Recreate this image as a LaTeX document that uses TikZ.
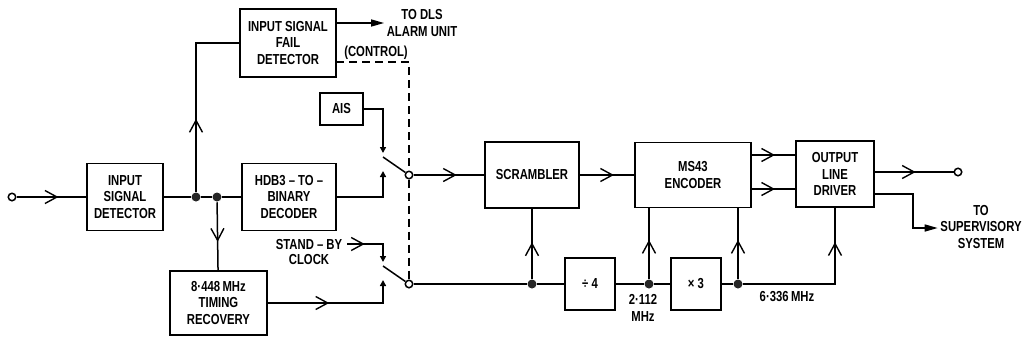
\documentclass[tikz,border=0pt]{standalone}
\usepackage{fontspec}
\setmainfont{Liberation Sans}[FakeStretch=0.78]
\usetikzlibrary{arrows.meta,calc}
\begin{document}
\begin{tikzpicture}[x=1pt,y=-1pt,line width=1.5pt,
  every node/.style={font=\fontsize{14.5}{16.5}\selectfont\bfseries, align=center},
  bx/.style 2 args={draw, minimum width=#1, minimum height=#2, inner sep=0pt},
  ocirc/.style={circle, draw, fill=white, minimum size=7.5pt, inner sep=0pt},
  dot/.style={circle, fill=black!85, minimum size=9pt, inner sep=0pt},
  lbl/.style={inner sep=2pt},
  swtip/.style={-{Triangle[length=6pt,width=6pt]}},
  bigtip/.style={-{Triangle[length=13pt,width=7pt]}},
  ctlline/.style={dashed, dash pattern=on 8pt off 5pt},
  chev/.pic={\draw[-, solid, line width=1.4pt, line join=miter] (-12,-6.5) -- (0,0) -- (-12,6.5);}]
\useasboundingbox (0,0) rectangle (1022,341);

% blocks
\node[bx={76pt}{67pt}] (isd) at (125,197) {INPUT\\SIGNAL\\DETECTOR};
\node[bx={96pt}{68pt}] (isfd) at (288,43) {INPUT SIGNAL\\FAIL\\DETECTOR};
\node[bx={43pt}{32pt}] (ais) at (341.5,109) {AIS};
\node[bx={94pt}{67pt}] (hdb) at (289,197) {HDB3 -- TO --\\BINARY\\DECODER};
\node[bx={97pt}{64pt}] (tim) at (218.5,303) {8·448\,MHz\\TIMING\\RECOVERY};
\node[bx={94pt}{66pt}] (scr) at (532,175) {SCRAMBLER};
\node[bx={116pt}{65pt}] (enc) at (693,175) {MS43\\ENCODER};
\node[bx={78pt}{66pt}] (old) at (835,174) {OUTPUT\\LINE\\DRIVER};
\node[bx={50pt}{52pt}] (div) at (590,284) {÷ 4};
\node[bx={50pt}{52pt}] (xth) at (696,284) {× 3};

% terminals and junctions
\node[ocirc] (inc) at (12,197) {};
\node[ocirc] (sw1) at (409,175) {};
\node[ocirc] (sw2) at (409,284) {};
\node[ocirc] (oc) at (958,172) {};
\node[dot] (d1) at (196,197) {};
\node[dot] (d2) at (217,197) {};
\node[dot] (d3) at (532,284) {};
\node[dot] (d4) at (649,284) {};
\node[dot] (d5) at (738,284) {};

\coordinate (s1hi) at (383,153);
\coordinate (s1lo) at (383,171);
\coordinate (s1b) at (383,157);
\coordinate (s2hi) at (383,262);
\coordinate (s2lo) at (383,280);
\coordinate (s2b) at (383,266);
\coordinate (sb) at (347,244);
\coordinate (ctl) at (336,62);
\coordinate (svc) at (913,228);

% labels
\node[lbl] (dls) at (422,23) {TO DLS\\ALARM UNIT};
\node[lbl] (ctrl) at (376,53) {(CONTROL)};
\node[lbl, font=\fontsize{14.5}{14.5}\selectfont\bfseries] (sbt) at (309,252) {STAND -- BY\\CLOCK};
\node[lbl] (sup) at (981,227) {TO\\SUPERVISORY\\SYSTEM};
\node[lbl] (f2) at (643,308) {2·112\\MHz};
\node[lbl] (f6) at (787,297) {6·336\,MHz};

% connectors
\draw (inc) -- pic[pos=.58,sloped]{chev} (isd);
\draw (isd) -- (d1) -- (d2) -- (hdb);
\draw (d1) |- pic[pos=.24,sloped]{chev} (isfd);
\draw[bigtip] (isfd.east |- dls) -- (dls);
\draw[ctlline] (ctl) -| (sw1.north);
\draw[ctlline] (sw1.south) -- (sw2.north);
\draw (d2) -- pic[pos=.56,sloped]{chev} (tim);
\draw[swtip] (ais) -| (s1hi);
\draw[swtip] (hdb) -| (s1lo);
\draw (s1b) -- (sw1);
\draw[swtip] (sb) -- pic[pos=.45,sloped]{chev} (sb -| s2hi) -- (s2hi);
\draw[swtip] (tim) -- pic[pos=.52,sloped]{chev} (tim -| s2lo) -- (s2lo);
\draw (s2b) -- (sw2);
\draw (sw1) -- pic[pos=.59,sloped]{chev} (scr);
\draw (sw2) -- (d3) -- (div);
\draw (d3) -- pic[pos=.5,sloped]{chev} (scr);
\draw (scr) -- pic[pos=.6,sloped]{chev} (enc);
\draw (div) -- (d4) -- (xth);
\draw (xth) -- (d5) -- (d5 -| old) -- pic[pos=.53,sloped]{chev} (old);
\draw (d4) -- pic[pos=.53,sloped]{chev} (d4 |- enc.south);
\draw (d5) -- pic[pos=.53,sloped]{chev} (d5 |- enc.south);
\draw (enc.east |- 0,155) -- pic[pos=.5,sloped]{chev} (old.west |- 0,155);
\draw (enc.east |- 0,189) -- pic[pos=.5,sloped]{chev} (old.west |- 0,189);
\draw (old.east |- oc) -- pic[pos=.5,sloped]{chev} (oc);
\draw[bigtip] (old.east |- 0,194) -| (svc) -- (sup.west |- svc);
\end{tikzpicture}
\end{document}
